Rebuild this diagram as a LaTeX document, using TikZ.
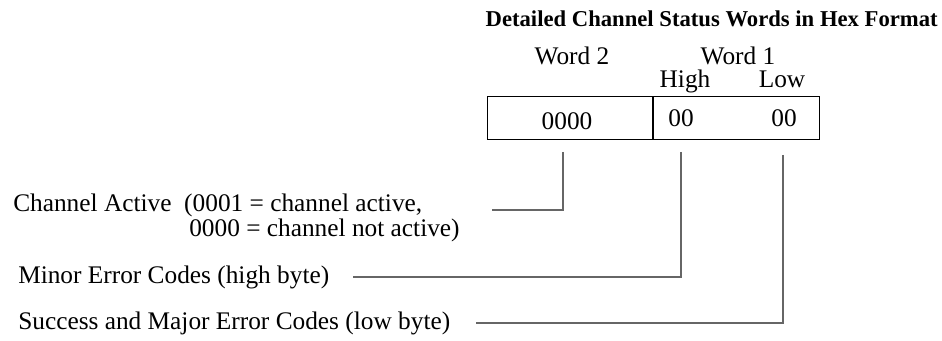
\documentclass[tikz,border=0pt]{standalone}
\usepackage{fontspec}
\setmainfont{Liberation Serif}
\usetikzlibrary{positioning}

\tikzset{
  cell/.style={draw,line width=0.6pt,minimum height=32.25pt,anchor=north west},
  leader/.style={draw=black!60,line width=0.8pt}
}

\begin{document}
\begin{tikzpicture}[x=0.75pt,y=-0.75pt]
\useasboundingbox (0,0) rectangle (942,341);
\begin{scope}[local bounding box=scope1,every node/.style={inner sep=0pt,font=\fontsize{19}{25}\selectfont}]

% Heading
\node[anchor=base east,font=\fontsize{17}{20}\selectfont\bfseries] at (938,27) (title) {Detailed Channel Status Words in Hex Format};
\node[anchor=base] at (572,65) (word2) {Word 2};
\node[anchor=base] at (738,65) (word1) {Word 1};
\node[anchor=base] at (685,88) (high) {High};
\node[anchor=base] at (782,88) (low) {Low};

% Boxes
\node[cell,minimum width=124.5pt] at (486.5,96) (box2) {};
\node[cell,minimum width=125.5pt] at (652,96) (box1) {};
\node[anchor=base] at (567,130) (val2) {0000};
\node[anchor=base] at (681,127) (valhi) {00};
\node[anchor=base] at (784,127) (vallo) {00};

% Labels
\node[anchor=base west] at (13,212) (chact) {Channel Active~~(0001 = channel active,};
\node[anchor=base west] at (189,237) (chnot) {0000 = channel not active)};
\node[anchor=base west] at (18,284) (minor) {Minor Error Codes (high byte)};
\node[anchor=base west] at (18,330) (major) {Success and Major Error Codes (low byte)};

% Leaders
\coordinate (t2) at (563,152);
\coordinate (e2) at (492,210);
\coordinate (thi) at (681,152);
\coordinate (ehi) at (353,277);
\coordinate (tlo) at (783,155);
\coordinate (elo) at (476,323);

\draw[leader] (t2) |- (e2);
\draw[leader] (thi) |- (ehi);
\draw[leader] (tlo) |- (elo);

\end{scope}
\end{tikzpicture}
\end{document}
